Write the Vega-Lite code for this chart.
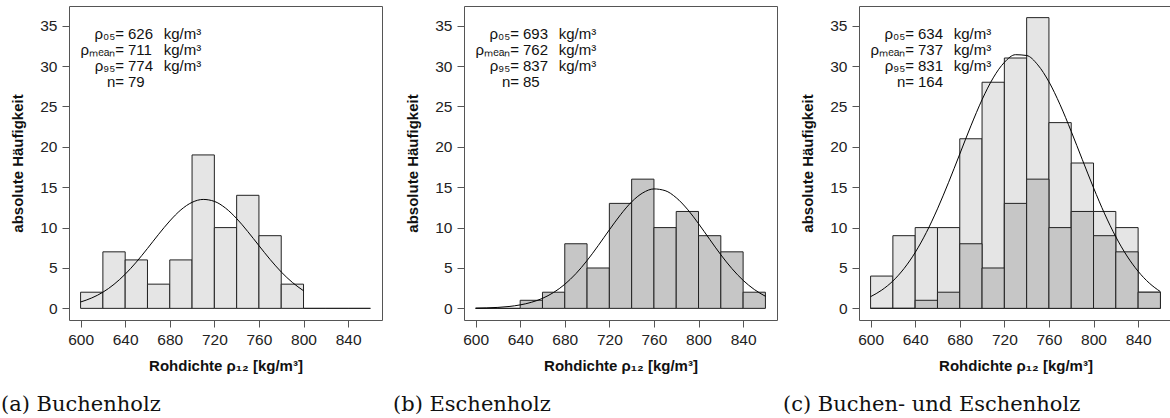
{
  "$schema": "https://vega.github.io/schema/vega-lite/v6.json",
  "padding": {"left": 0, "top": 5, "right": 0, "bottom": 0},
  "background": "white",
  "spacing": 82,
  "bounds": "flush",
  "datasets": {
    "barsA": [
      {"lo": 600, "hi": 620, "count": 2}, {"lo": 620, "hi": 640, "count": 7}, {"lo": 640, "hi": 660, "count": 6},
      {"lo": 660, "hi": 680, "count": 3}, {"lo": 680, "hi": 700, "count": 6}, {"lo": 700, "hi": 720, "count": 19},
      {"lo": 720, "hi": 740, "count": 10}, {"lo": 740, "hi": 760, "count": 14}, {"lo": 760, "hi": 780, "count": 9},
      {"lo": 780, "hi": 800, "count": 3}, {"lo": 800, "hi": 820, "count": 0}, {"lo": 820, "hi": 840, "count": 0},
      {"lo": 840, "hi": 860, "count": 0}
    ],
    "barsB": [
      {"lo": 600, "hi": 620, "count": 0}, {"lo": 620, "hi": 640, "count": 0}, {"lo": 640, "hi": 660, "count": 1},
      {"lo": 660, "hi": 680, "count": 2}, {"lo": 680, "hi": 700, "count": 8}, {"lo": 700, "hi": 720, "count": 5},
      {"lo": 720, "hi": 740, "count": 13}, {"lo": 740, "hi": 760, "count": 16}, {"lo": 760, "hi": 780, "count": 10},
      {"lo": 780, "hi": 800, "count": 12}, {"lo": 800, "hi": 820, "count": 9}, {"lo": 820, "hi": 840, "count": 7},
      {"lo": 840, "hi": 860, "count": 2}
    ],
    "barsC": [
      {"lo": 600, "hi": 620, "count": 4}, {"lo": 620, "hi": 640, "count": 9}, {"lo": 640, "hi": 660, "count": 10},
      {"lo": 660, "hi": 680, "count": 10}, {"lo": 680, "hi": 700, "count": 21}, {"lo": 700, "hi": 720, "count": 28},
      {"lo": 720, "hi": 740, "count": 31}, {"lo": 740, "hi": 760, "count": 36}, {"lo": 760, "hi": 780, "count": 23},
      {"lo": 780, "hi": 800, "count": 18}, {"lo": 800, "hi": 820, "count": 12}, {"lo": 820, "hi": 840, "count": 10},
      {"lo": 840, "hi": 860, "count": 2}
    ],
    "curveA": [
      {"rho": 600, "freq": 0.79}, {"rho": 610, "freq": 1.29}, {"rho": 620, "freq": 2.0}, {"rho": 630, "freq": 2.98},
      {"rho": 640, "freq": 4.23}, {"rho": 650, "freq": 5.73}, {"rho": 660, "freq": 7.42}, {"rho": 670, "freq": 9.17},
      {"rho": 680, "freq": 10.82}, {"rho": 690, "freq": 12.2}, {"rho": 700, "freq": 13.13}, {"rho": 710, "freq": 13.49},
      {"rho": 720, "freq": 13.25}, {"rho": 730, "freq": 12.42}, {"rho": 740, "freq": 11.12}, {"rho": 750, "freq": 9.51},
      {"rho": 760, "freq": 7.77}, {"rho": 770, "freq": 6.06}, {"rho": 780, "freq": 4.51}, {"rho": 790, "freq": 3.21},
      {"rho": 800, "freq": 2.18}
    ],
    "curveB": [
      {"rho": 600, "freq": 0.03}, {"rho": 610, "freq": 0.06}, {"rho": 620, "freq": 0.12}, {"rho": 630, "freq": 0.23},
      {"rho": 640, "freq": 0.43}, {"rho": 650, "freq": 0.75}, {"rho": 660, "freq": 1.24}, {"rho": 670, "freq": 1.97},
      {"rho": 680, "freq": 2.98}, {"rho": 690, "freq": 4.3}, {"rho": 700, "freq": 5.92}, {"rho": 710, "freq": 7.77},
      {"rho": 720, "freq": 9.72}, {"rho": 730, "freq": 11.59}, {"rho": 740, "freq": 13.19}, {"rho": 750, "freq": 14.3},
      {"rho": 760, "freq": 14.79}, {"rho": 770, "freq": 14.58}, {"rho": 780, "freq": 13.7}, {"rho": 790, "freq": 12.28},
      {"rho": 800, "freq": 10.49}, {"rho": 810, "freq": 8.55}, {"rho": 820, "freq": 6.64}, {"rho": 830, "freq": 4.92},
      {"rho": 840, "freq": 3.47}, {"rho": 850, "freq": 2.34}, {"rho": 860, "freq": 1.5}
    ],
    "curveC": [
      {"rho": 600, "freq": 1.45}, {"rho": 610, "freq": 2.26}, {"rho": 620, "freq": 3.39}, {"rho": 630, "freq": 4.93},
      {"rho": 640, "freq": 6.92}, {"rho": 650, "freq": 9.39}, {"rho": 660, "freq": 12.32}, {"rho": 670, "freq": 15.61},
      {"rho": 680, "freq": 19.11}, {"rho": 690, "freq": 22.6}, {"rho": 700, "freq": 25.84}, {"rho": 710, "freq": 28.54},
      {"rho": 720, "freq": 30.46}, {"rho": 730, "freq": 31.41}, {"rho": 740, "freq": 31.31}, {"rho": 750, "freq": 30.15},
      {"rho": 760, "freq": 28.05}, {"rho": 770, "freq": 25.22}, {"rho": 780, "freq": 21.91}, {"rho": 790, "freq": 18.4},
      {"rho": 800, "freq": 14.93}, {"rho": 810, "freq": 11.7}, {"rho": 820, "freq": 8.86}, {"rho": 830, "freq": 6.49},
      {"rho": 840, "freq": 4.59}, {"rho": 850, "freq": 3.13}, {"rho": 860, "freq": 2.07}
    ],
    "statsA": [{"p05": "626", "mean": "711", "p95": "774", "n": "79"}],
    "statsB": [{"p05": "693", "mean": "762", "p95": "837", "n": "85"}],
    "statsC": [{"p05": "634", "mean": "737", "p95": "831", "n": "164"}]
  },
  "hconcat": [
    {
      "width": 313, "height": 314,
      "title": {"text": "(a) Buchenholz", "orient": "bottom", "anchor": "start", "frame": "group", "dx": -68, "offset": 20},
      "layer": [
        {"data": {"name": "barsA"}, "mark": {"type": "rect", "fill": "#e5e5e5", "stroke": "#222", "strokeWidth": 1},
         "encoding": {
           "x": {"field": "lo", "type": "quantitative", "scale": {"domain": [589.6, 870.4], "nice": false, "zero": false},
                 "axis": {"values": [600, 640, 680, 720, 760, 800, 840], "title": "Rohdichte ρ₁₂ [kg/m³]"}},
           "x2": {"field": "hi"},
           "y": {"field": "count", "type": "quantitative", "scale": {"domain": [-1.44, 37.44], "nice": false, "zero": false},
                 "axis": {"values": [0, 5, 10, 15, 20, 25, 30, 35], "title": "absolute Häufigkeit"}},
           "y2": {"datum": 0}}},
        {"data": {"name": "curveA"}, "mark": {"type": "line", "color": "#000", "strokeWidth": 1, "interpolate": "monotone"},
         "encoding": {"x": {"field": "rho", "type": "quantitative"}, "y": {"field": "freq", "type": "quantitative"}}},
        {"data": {"name": "statsA"}, "mark": {"type": "text", "align": "right", "text": "ρ₀₅="}, "encoding": {"x": {"datum": 639}, "y": {"datum": 34}}},
        {"data": {"name": "statsA"}, "mark": {"type": "text", "align": "right", "text": "ρₘₑₐₙ="}, "encoding": {"x": {"datum": 639}, "y": {"datum": 32}}},
        {"data": {"name": "statsA"}, "mark": {"type": "text", "align": "right", "text": "ρ₉₅="}, "encoding": {"x": {"datum": 639}, "y": {"datum": 30}}},
        {"data": {"name": "statsA"}, "mark": {"type": "text", "align": "right", "text": "n="}, "encoding": {"x": {"datum": 639}, "y": {"datum": 28}}},
        {"data": {"name": "statsA"}, "mark": {"type": "text", "align": "left"}, "encoding": {"text": {"field": "p05", "type": "nominal"}, "x": {"datum": 642.5}, "y": {"datum": 34}}},
        {"data": {"name": "statsA"}, "mark": {"type": "text", "align": "left"}, "encoding": {"text": {"field": "mean", "type": "nominal"}, "x": {"datum": 642.5}, "y": {"datum": 32}}},
        {"data": {"name": "statsA"}, "mark": {"type": "text", "align": "left"}, "encoding": {"text": {"field": "p95", "type": "nominal"}, "x": {"datum": 642.5}, "y": {"datum": 30}}},
        {"data": {"name": "statsA"}, "mark": {"type": "text", "align": "left"}, "encoding": {"text": {"field": "n", "type": "nominal"}, "x": {"datum": 642.5}, "y": {"datum": 28}}},
        {"data": {"name": "statsA"}, "mark": {"type": "text", "align": "left", "text": "kg/m³"}, "encoding": {"x": {"datum": 674.5}, "y": {"datum": 34}}},
        {"data": {"name": "statsA"}, "mark": {"type": "text", "align": "left", "text": "kg/m³"}, "encoding": {"x": {"datum": 674.5}, "y": {"datum": 32}}},
        {"data": {"name": "statsA"}, "mark": {"type": "text", "align": "left", "text": "kg/m³"}, "encoding": {"x": {"datum": 674.5}, "y": {"datum": 30}}}
      ]
    },
    {
      "width": 313, "height": 314,
      "title": {"text": "(b) Eschenholz", "orient": "bottom", "anchor": "start", "frame": "group", "dx": -71, "offset": 20},
      "layer": [
        {"data": {"name": "barsB"}, "mark": {"type": "rect", "fill": "#c6c6c6", "stroke": "#222", "strokeWidth": 1},
         "encoding": {
           "x": {"field": "lo", "type": "quantitative", "scale": {"domain": [589.6, 870.4], "nice": false, "zero": false},
                 "axis": {"values": [600, 640, 680, 720, 760, 800, 840], "title": "Rohdichte ρ₁₂ [kg/m³]"}},
           "x2": {"field": "hi"},
           "y": {"field": "count", "type": "quantitative", "scale": {"domain": [-1.44, 37.44], "nice": false, "zero": false},
                 "axis": {"values": [0, 5, 10, 15, 20, 25, 30, 35], "title": "absolute Häufigkeit"}},
           "y2": {"datum": 0}}},
        {"data": {"name": "curveB"}, "mark": {"type": "line", "color": "#000", "strokeWidth": 1, "interpolate": "monotone"},
         "encoding": {"x": {"field": "rho", "type": "quantitative"}, "y": {"field": "freq", "type": "quantitative"}}},
        {"data": {"name": "statsB"}, "mark": {"type": "text", "align": "right", "text": "ρ₀₅="}, "encoding": {"x": {"datum": 639}, "y": {"datum": 34}}},
        {"data": {"name": "statsB"}, "mark": {"type": "text", "align": "right", "text": "ρₘₑₐₙ="}, "encoding": {"x": {"datum": 639}, "y": {"datum": 32}}},
        {"data": {"name": "statsB"}, "mark": {"type": "text", "align": "right", "text": "ρ₉₅="}, "encoding": {"x": {"datum": 639}, "y": {"datum": 30}}},
        {"data": {"name": "statsB"}, "mark": {"type": "text", "align": "right", "text": "n="}, "encoding": {"x": {"datum": 639}, "y": {"datum": 28}}},
        {"data": {"name": "statsB"}, "mark": {"type": "text", "align": "left"}, "encoding": {"text": {"field": "p05", "type": "nominal"}, "x": {"datum": 642.5}, "y": {"datum": 34}}},
        {"data": {"name": "statsB"}, "mark": {"type": "text", "align": "left"}, "encoding": {"text": {"field": "mean", "type": "nominal"}, "x": {"datum": 642.5}, "y": {"datum": 32}}},
        {"data": {"name": "statsB"}, "mark": {"type": "text", "align": "left"}, "encoding": {"text": {"field": "p95", "type": "nominal"}, "x": {"datum": 642.5}, "y": {"datum": 30}}},
        {"data": {"name": "statsB"}, "mark": {"type": "text", "align": "left"}, "encoding": {"text": {"field": "n", "type": "nominal"}, "x": {"datum": 642.5}, "y": {"datum": 28}}},
        {"data": {"name": "statsB"}, "mark": {"type": "text", "align": "left", "text": "kg/m³"}, "encoding": {"x": {"datum": 674.5}, "y": {"datum": 34}}},
        {"data": {"name": "statsB"}, "mark": {"type": "text", "align": "left", "text": "kg/m³"}, "encoding": {"x": {"datum": 674.5}, "y": {"datum": 32}}},
        {"data": {"name": "statsB"}, "mark": {"type": "text", "align": "left", "text": "kg/m³"}, "encoding": {"x": {"datum": 674.5}, "y": {"datum": 30}}}
      ]
    },
    {
      "width": 313, "height": 314,
      "title": {"text": "(c) Buchen- und Eschenholz", "orient": "bottom", "anchor": "start", "frame": "group", "dx": -76, "offset": 20},
      "layer": [
        {"data": {"name": "barsC"}, "mark": {"type": "rect", "fill": "#e5e5e5", "stroke": "#222", "strokeWidth": 1},
         "encoding": {
           "x": {"field": "lo", "type": "quantitative", "scale": {"domain": [589.6, 870.4], "nice": false, "zero": false},
                 "axis": {"values": [600, 640, 680, 720, 760, 800, 840], "title": "Rohdichte ρ₁₂ [kg/m³]"}},
           "x2": {"field": "hi"},
           "y": {"field": "count", "type": "quantitative", "scale": {"domain": [-1.44, 37.44], "nice": false, "zero": false},
                 "axis": {"values": [0, 5, 10, 15, 20, 25, 30, 35], "title": "absolute Häufigkeit"}},
           "y2": {"datum": 0}}},
        {"data": {"name": "barsB"}, "mark": {"type": "rect", "fill": "#c6c6c6", "stroke": "#222", "strokeWidth": 1},
         "encoding": {"x": {"field": "lo", "type": "quantitative"}, "x2": {"field": "hi"}, "y": {"field": "count", "type": "quantitative"}, "y2": {"datum": 0}}},
        {"data": {"name": "curveC"}, "mark": {"type": "line", "color": "#000", "strokeWidth": 1, "interpolate": "monotone"},
         "encoding": {"x": {"field": "rho", "type": "quantitative"}, "y": {"field": "freq", "type": "quantitative"}}},
        {"data": {"name": "statsC"}, "mark": {"type": "text", "align": "right", "text": "ρ₀₅="}, "encoding": {"x": {"datum": 639}, "y": {"datum": 34}}},
        {"data": {"name": "statsC"}, "mark": {"type": "text", "align": "right", "text": "ρₘₑₐₙ="}, "encoding": {"x": {"datum": 639}, "y": {"datum": 32}}},
        {"data": {"name": "statsC"}, "mark": {"type": "text", "align": "right", "text": "ρ₉₅="}, "encoding": {"x": {"datum": 639}, "y": {"datum": 30}}},
        {"data": {"name": "statsC"}, "mark": {"type": "text", "align": "right", "text": "n="}, "encoding": {"x": {"datum": 639}, "y": {"datum": 28}}},
        {"data": {"name": "statsC"}, "mark": {"type": "text", "align": "left"}, "encoding": {"text": {"field": "p05", "type": "nominal"}, "x": {"datum": 642.5}, "y": {"datum": 34}}},
        {"data": {"name": "statsC"}, "mark": {"type": "text", "align": "left"}, "encoding": {"text": {"field": "mean", "type": "nominal"}, "x": {"datum": 642.5}, "y": {"datum": 32}}},
        {"data": {"name": "statsC"}, "mark": {"type": "text", "align": "left"}, "encoding": {"text": {"field": "p95", "type": "nominal"}, "x": {"datum": 642.5}, "y": {"datum": 30}}},
        {"data": {"name": "statsC"}, "mark": {"type": "text", "align": "left"}, "encoding": {"text": {"field": "n", "type": "nominal"}, "x": {"datum": 642.5}, "y": {"datum": 28}}},
        {"data": {"name": "statsC"}, "mark": {"type": "text", "align": "left", "text": "kg/m³"}, "encoding": {"x": {"datum": 674.5}, "y": {"datum": 34}}},
        {"data": {"name": "statsC"}, "mark": {"type": "text", "align": "left", "text": "kg/m³"}, "encoding": {"x": {"datum": 674.5}, "y": {"datum": 32}}},
        {"data": {"name": "statsC"}, "mark": {"type": "text", "align": "left", "text": "kg/m³"}, "encoding": {"x": {"datum": 674.5}, "y": {"datum": 30}}}
      ]
    }
  ],
  "config": {
    "view": {"stroke": "#555", "strokeWidth": 1, "fill": "white"},
    "text": {"font": "Liberation Sans", "fontSize": 15, "baseline": "middle", "color": "#111"},
    "axis": {
      "domain": false, "grid": false, "ticks": true, "tickColor": "#555", "tickSize": 7, "tickWidth": 1,
      "labelFont": "Liberation Sans", "labelFontSize": 15.5, "labelColor": "#222", "labelPadding": 5,
      "titleFont": "Liberation Sans", "titleFontSize": 15, "titleFontWeight": "bold", "titleColor": "#111",
      "labelFlush": false, "labelOverlap": false
    },
    "axisX": {"titlePadding": 11},
    "axisY": {"titlePadding": 14},
    "title": {"font": "DejaVu Serif", "fontSize": 21, "fontWeight": "normal", "color": "#111"}
  }
}
